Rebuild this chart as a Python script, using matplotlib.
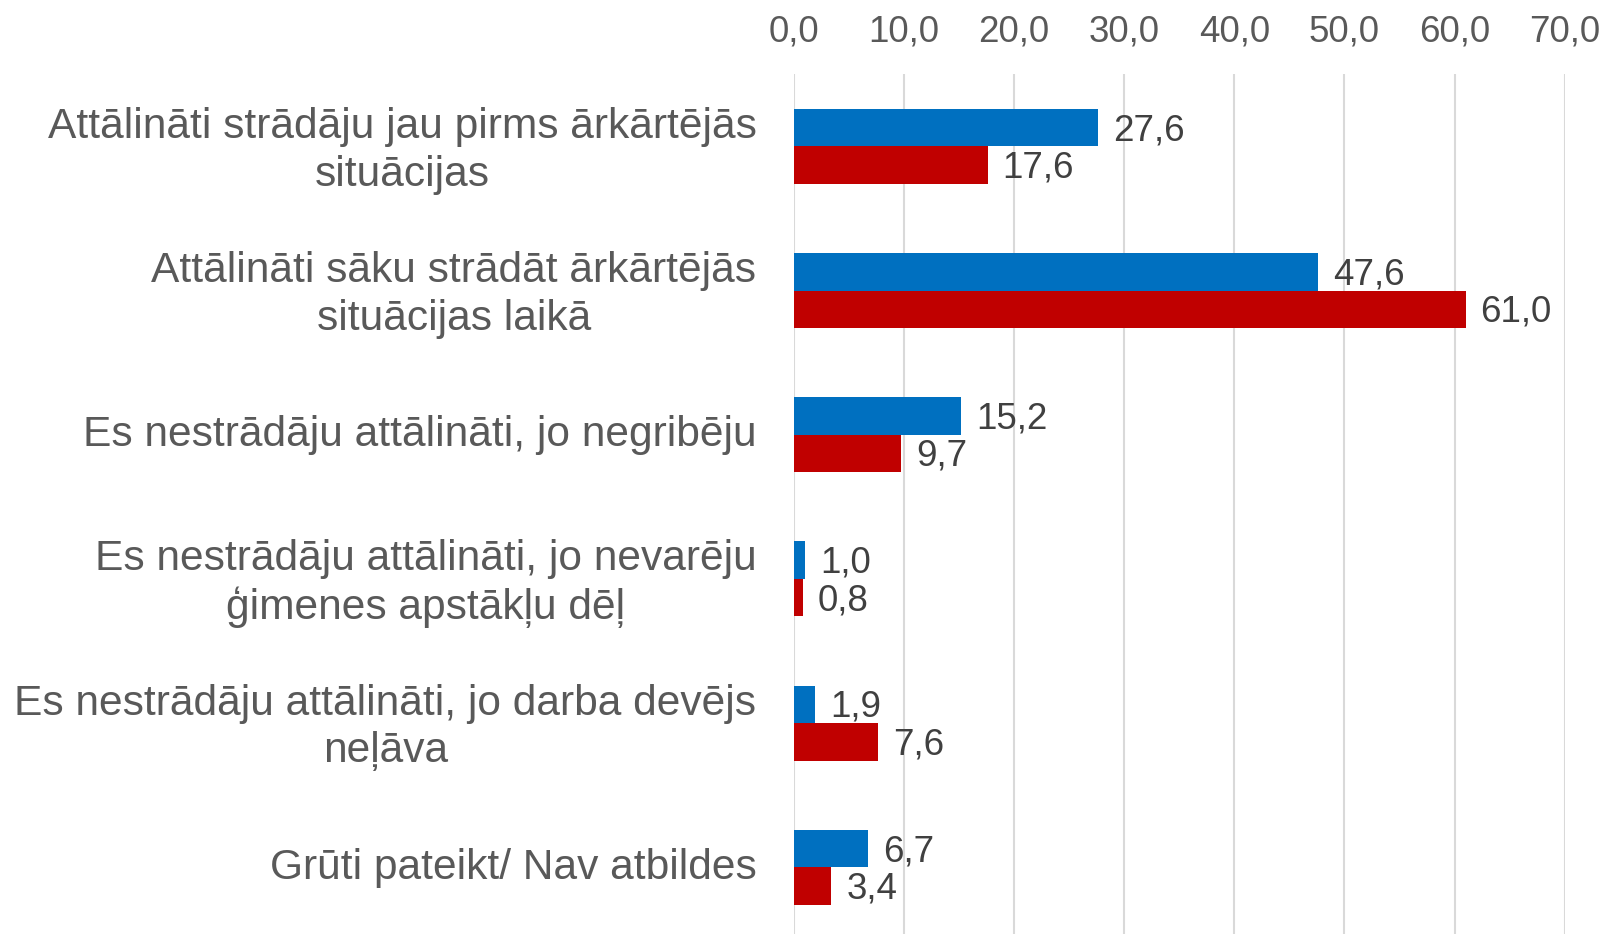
import matplotlib
matplotlib.use("Agg")
import matplotlib.pyplot as plt
import matplotlib.transforms as mtransforms
import numpy as np

categories = [
    "Attālināti strādāju jau pirms ārkārtējās\nsituācijas",
    "Attālināti sāku strādāt ārkārtējās\nsituācijas laikā",
    "Es nestrādāju attālināti, jo negribēju",
    "Es nestrādāju attālināti, jo nevarēju\nģimenes apstākļu dēļ",
    "Es nestrādāju attālināti, jo darba devējs\nneļāva",
    "Grūti pateikt/ Nav atbildes",
]
series_blue = [27.6, 47.6, 15.2, 1.0, 1.9, 6.7]
series_red = [17.6, 61.0, 9.7, 0.8, 7.6, 3.4]
x_ticks = [0, 10, 20, 30, 40, 50, 60, 70]

plt.rcParams['font.family'] = ['Liberation Sans', 'DejaVu Sans']

fig = plt.figure(figsize=(16.02, 9.34), dpi=100)
top = 1 - 74.2 / 934
bottom = 1 - 939.5 / 934
ax = fig.add_axes([0.4956, bottom, 0.9767 - 0.4956, top - bottom])

y = np.arange(len(categories))
h = 0.26
b1 = ax.barh(y - h / 2, series_blue, height=h, color="#0070C0")
b2 = ax.barh(y + h / 2, series_red, height=h, color="#C00000")

for bars, vals in ((b1, series_blue), (b2, series_red)):
    for rect, v in zip(bars, vals):
        ax.annotate(f"{v:.1f}".replace(".", ","),
                    xy=(rect.get_width(), rect.get_y() + rect.get_height() / 2),
                    xytext=(15, -3), textcoords="offset pixels",
                    va="center", ha="left", fontsize=26.5, color="#404040")

ax.set_xlim(0, 70)
ax.set_ylim(len(categories) - 0.5, -0.5)
ax.set_xticks(x_ticks)
ax.set_xticklabels([f"{t:.1f}".replace(".", ",") for t in x_ticks])
ax.xaxis.tick_top()
ax.tick_params(axis="x", length=0, pad=18, labelsize=26.5, labelcolor="#595959")
ax.set_yticks(y)
ax.set_yticklabels(categories)
ax.tick_params(axis="y", length=0, pad=27, labelsize=30.6, labelcolor="#595959")
shift = mtransforms.ScaledTranslation(0, 4 / 100, fig.dpi_scale_trans)
for lab in ax.get_yticklabels():
    lab.set_multialignment("center")
    lab.set_linespacing(1.25)
    lab.set_transform(lab.get_transform() + shift)

ax.grid(axis="x", color="#D9D9D9", linewidth=1.5)
ax.set_axisbelow(True)
for s in ax.spines.values():
    s.set_visible(False)

fig.savefig("out.png", dpi=100, facecolor="white")
